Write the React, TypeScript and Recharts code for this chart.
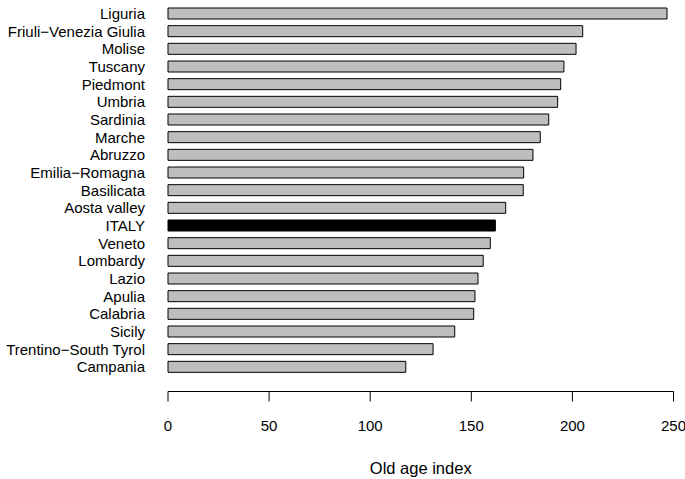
import React from 'react';
import { BarChart, Bar, XAxis, YAxis, Cell } from 'recharts';

const regions = [
  'Liguria', 'Friuli−Venezia Giulia', 'Molise', 'Tuscany', 'Piedmont', 'Umbria',
  'Sardinia', 'Marche', 'Abruzzo', 'Emilia−Romagna', 'Basilicata', 'Aosta valley',
  'ITALY', 'Veneto', 'Lombardy', 'Lazio', 'Apulia', 'Calabria', 'Sicily',
  'Trentino−South Tyrol', 'Campania',
];

const oldAgeIndex = [
  246.8, 205.1, 201.8, 195.8, 194.2, 192.7, 188.3, 184.1, 180.5, 175.9, 175.7,
  167.0, 161.9, 159.4, 155.9, 153.3, 151.8, 151.2, 141.8, 131.1, 117.6,
];

const xTicks = [0, 50, 100, 150, 200, 250];

const data = regions.map((name, i) => ({ name, value: oldAgeIndex[i] }));

const FONT = '"Liberation Sans", Arial, Helvetica, sans-serif';

export default function App() {
  return (
    <div style={{ position: 'absolute', left: 0, top: 0 }}>
      <BarChart
        width={685}
        height={479}
        data={data}
        layout="vertical"
        margin={{ top: 5, right: 11.5, left: 0, bottom: 0 }}
      >
        <XAxis
          type="number"
          domain={[0, 250]}
          ticks={xTicks}
          height={87.5}
          stroke="#000"
          tickSize={10}
          tickMargin={18.5}
          tick={{ fontSize: 15, fill: '#000', fontFamily: FONT }}
          label={{
            value: 'Old age index',
            position: 'insideBottom',
            offset: 5,
            style: { fontSize: 16.5, fill: '#000', fontFamily: FONT },
          }}
        />
        <YAxis
          type="category"
          dataKey="name"
          width={168}
          axisLine={false}
          tickLine={false}
          tickSize={0}
          tickMargin={23}
          interval={0}
          padding={{ top: 0, bottom: 15.5 }}
          tick={{ fontSize: 15, fill: '#000', fontFamily: FONT }}
        />
        <Bar dataKey="value" barSize={11} stroke="#000" strokeWidth={1} isAnimationActive={false}>
          {data.map((d) => (
            <Cell key={d.name} fill={d.name === 'ITALY' ? '#000000' : '#bebebe'} />
          ))}
        </Bar>
      </BarChart>
    </div>
  );
}
